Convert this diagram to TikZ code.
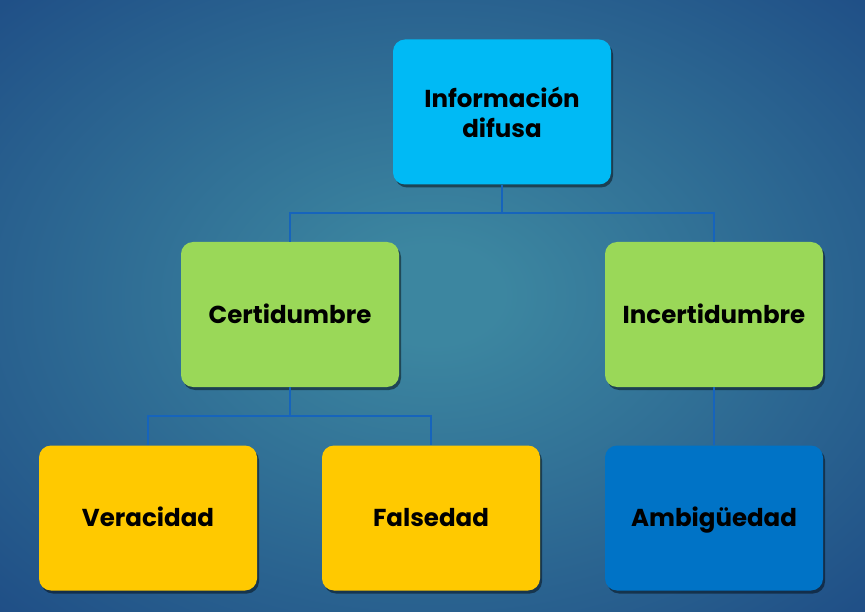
\documentclass[tikz,border=0pt]{standalone}
\usepackage{fontspec}
\setmainfont{Poppins}
\usetikzlibrary{shadows}
\definecolor{bgc}{RGB}{60,134,160}
\definecolor{bgm}{RGB}{31,78,134}
\definecolor{bge}{RGB}{25,54,112}
\definecolor{linec}{RGB}{22,100,188}
\definecolor{topc}{RGB}{0,186,245}
\definecolor{greenc}{RGB}{154,216,88}
\definecolor{yellowc}{RGB}{255,201,0}
\definecolor{ambc}{RGB}{0,115,198}
\pgfdeclareradialshading{bgshade}{\pgfpoint{0bp}{1bp}}{color(0bp)=(bgc); color(4bp)=(bgc); color(36bp)=(bgm); color(50bp)=(bge)}
\tikzset{
  box/.style={rounded corners=12pt, minimum width=218pt, minimum height=145pt,
    font=\bfseries\fontsize{24.5}{30}\selectfont, text=black,
    drop shadow={shadow xshift=2pt, shadow yshift=-3pt, opacity=0.45, fill=black}},
  twoline/.style={align=center},
  oneline/.style={text height=23.5pt, text depth=6pt},
  conn/.style={draw=linec, line width=2.6pt}
}
\begin{document}
\begin{tikzpicture}[x=1pt,y=-1pt]
\shade[shading=bgshade] (0,0) rectangle (865,612);
\useasboundingbox (0,0) rectangle (865,612);
\node[box, twoline, fill=topc] (info) at (502,112) {Información\\difusa};
\node[box, oneline, fill=greenc] (cert) at (290,314.5) {Certidumbre};
\node[box, oneline, fill=greenc] (inc) at (714,314.5) {Incertidumbre};
\node[box, oneline, fill=yellowc] (ver) at (148,518) {Veracidad};
\node[box, oneline, fill=yellowc] (fal) at (431,518) {Falsedad};
\node[box, oneline, fill=ambc] (amb) at (714,518) {Ambigüedad};
\coordinate (j1) at (502,213);
\coordinate (j2) at (290,416);
\draw[conn] (info.south) -- (j1) -| (cert.north);
\draw[conn] (j1) -| (inc.north);
\draw[conn] (cert.south) -- (j2) -| (ver.north);
\draw[conn] (j2) -| (fal.north);
\draw[conn] (inc.south) -- (amb.north);
\end{tikzpicture}
\end{document}
